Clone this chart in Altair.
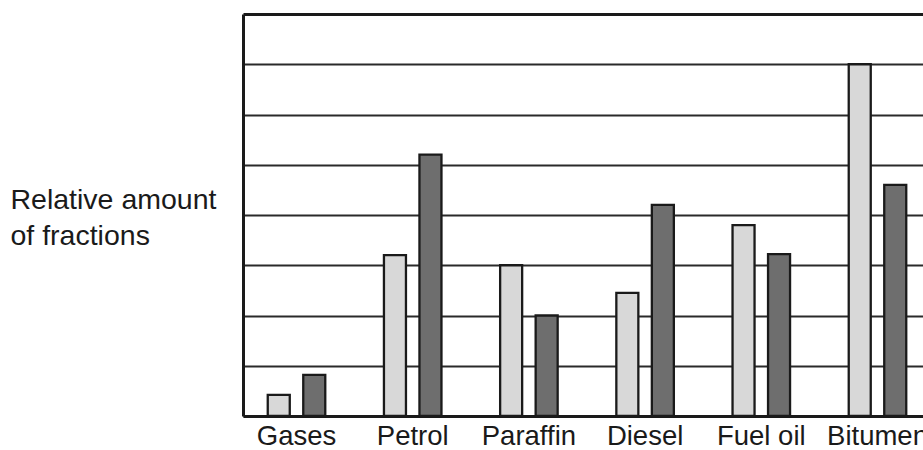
import altair as alt
import pandas as pd

categories = ["Gases", "Petrol", "Paraffin", "Diesel", "Fuel oil", "Bitumen"]
series_names = ["Series 1", "Series 2"]
series1_values = [0.42, 3.2, 3.0, 2.45, 3.8, 7.0]
series2_values = [0.82, 5.2, 2.0, 4.2, 3.22, 4.6]
y_ticks = [0, 1, 2, 3, 4, 5, 6, 7, 8]

rows = []
for c, a, b in zip(categories, series1_values, series2_values):
    rows.append({"fraction": c, "series": series_names[0], "amount": a})
    rows.append({"fraction": c, "series": series_names[1], "amount": b})
df = pd.DataFrame(rows)

FONT = "Liberation Sans"

chart = alt.Chart(df).mark_bar(
    stroke="#1a1a1a", strokeWidth=2.3, strokeJoin="miter"
).encode(
    x=alt.X(
        "fraction:N",
        sort=categories,
        scale=alt.Scale(range=[0, 688], paddingInner=0.079, paddingOuter=0),
        axis=alt.Axis(
            title=None,
            labelAngle=0,
            labelFont=FONT,
            labelFontSize=27.5,
            labelColor="#1a1a1a",
            labelPadding=6,
            ticks=False,
            tickSize=0,
            domainColor="#1a1a1a",
            domainWidth=3,
            labelOverlap=False,
        ),
    ),
    xOffset=alt.XOffset(
        "series:N",
        sort=series_names,
        scale=alt.Scale(paddingInner=0.38, paddingOuter=0.697),
    ),
    y=alt.Y(
        "amount:Q",
        scale=alt.Scale(domain=[0, 8], nice=False, zero=True),
        axis=alt.Axis(
            values=y_ticks,
            labels=False,
            ticks=False,
            grid=True,
            gridColor={"condition": {"test": "datum.value == 8", "value": "#1a1a1a"}, "value": "#2a2a2a"},
            gridWidth={"condition": {"test": "datum.value == 8", "value": 3}, "value": 1.8},
            gridOpacity=1,
            domainColor="#1a1a1a",
            domainWidth=3,
            title=["Relative amount", "of fractions"],
            titleAngle=0,
            titleAlign="left",
            titleBaseline="alphabetic",
            titleX=-233,
            titleY=194,
            titleLineHeight=36,
            titleFont=FONT,
            titleFontSize=28.5,
            titleFontWeight="normal",
            titleColor="#1a1a1a",
        ),
    ),
    fill=alt.Fill(
        "series:N",
        scale=alt.Scale(domain=series_names, range=["#d8d8d8", "#6e6e6e"]),
        legend=None,
    ),
).properties(
    width=680,
    height=402,
    autosize=alt.AutoSizeParams(type="none"),
    padding={"left": 243, "top": 14, "right": 0, "bottom": 34},
).configure_view(
    stroke=None
).configure(
    background="white"
)

chart.save("out.html", embed_options={"renderer": "svg", "actions": False})
